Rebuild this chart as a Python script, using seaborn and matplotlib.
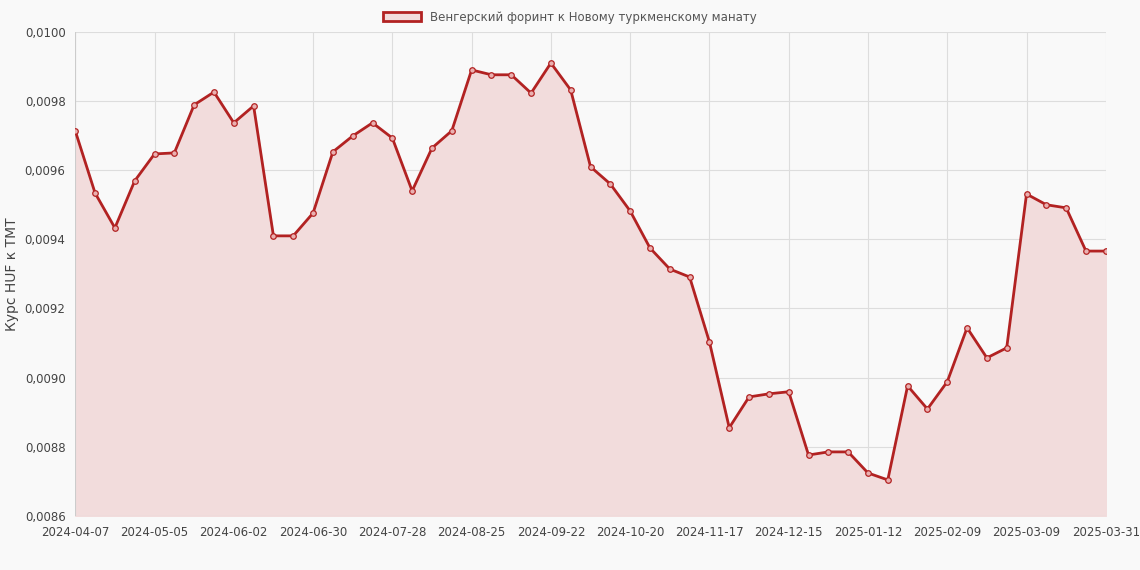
import numpy as np
import pandas as pd
import matplotlib
matplotlib.use('Agg')
import matplotlib.pyplot as plt
import seaborn as sns
from matplotlib.patches import Patch

# Weekly dates (categorical axis); only every 4th label shown plus the last
dates = list(pd.date_range('2024-04-07', periods=52, freq='7D').strftime('%Y-%m-%d')) + ['2025-03-31']
rates = [0.009714, 0.009534, 0.009433, 0.009569, 0.009647, 0.009650, 0.009789, 0.009826,
         0.009737, 0.009786, 0.009410, 0.009410, 0.009476, 0.009653, 0.009699, 0.009737,
         0.009693, 0.009540, 0.009664, 0.009714, 0.009890, 0.009876, 0.009876, 0.009823,
         0.009910, 0.009832, 0.009610, 0.009560, 0.009482, 0.009375, 0.009314, 0.009291,
         0.009103, 0.008855, 0.008944, 0.008953, 0.008959, 0.008776, 0.008785, 0.008785,
         0.008724, 0.008704, 0.008976, 0.008909, 0.008988, 0.009144, 0.009057, 0.009086,
         0.009531, 0.009500, 0.009491, 0.009366, 0.009366]

df = pd.DataFrame({'idx': np.arange(len(rates)), 'rate': rates})
line_color = '#b22222'
fill_color = '#f2dcdc'

sns.set_style('whitegrid')
plt.rcParams['font.family'] = ['DejaVu Sans']
fig, ax = plt.subplots(figsize=(11.4, 5.7), dpi=100)
fig.patch.set_facecolor('#f9f9f9')
ax.set_facecolor('#f9f9f9')

ax.fill_between(df['idx'], df['rate'], 0.0086, color=fill_color, zorder=1)
sns.lineplot(data=df, x='idx', y='rate', ax=ax, color=line_color, linewidth=2,
             marker='o', markersize=4, markerfacecolor='#eab0b0',
             markeredgecolor=line_color, markeredgewidth=0.9, zorder=3)

ax.set_xlim(0, len(rates) - 1)
ax.set_ylim(0.0086, 0.0100)
ticks = list(range(0, len(rates) - 1, 4)) + [len(rates) - 1]
ax.set_xticks(ticks)
ax.set_xticklabels([dates[i] for i in ticks], fontsize=8.5, color='#444444')
yt = np.arange(0.0086, 0.01001, 0.0002)
ax.set_yticks(yt)
ax.set_yticklabels([f'{v:.4f}'.replace('.', ',') for v in yt], fontsize=8.5, color='#444444')
ax.set_xlabel('')
ax.set_ylabel('Курс HUF к TMT', fontsize=10, color='#444444')
ax.grid(color='#dddddd', linewidth=0.8)
for s in ax.spines.values():
    s.set_visible(False)
ax.axvline(0, color='#cccccc', linewidth=0.8)
ax.axhline(0.0086, color='#cccccc', linewidth=0.8)

handle = Patch(facecolor=fill_color, edgecolor=line_color, linewidth=2)
fig.legend([handle], ['Венгерский форинт к Новому туркменскому манату'], loc='upper center',
           bbox_to_anchor=(0.5, 1.0), frameon=False, fontsize=8.5, handlelength=3.2,
           labelcolor='#555555')

fig.subplots_adjust(left=0.066, right=0.97, top=0.944, bottom=0.095)
fig.savefig('out.png', dpi=100, facecolor=fig.get_facecolor())
